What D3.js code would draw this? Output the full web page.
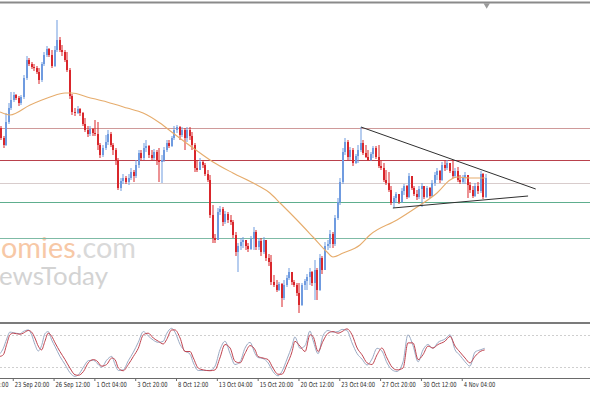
<!DOCTYPE html>
<html>
<head>
<meta charset="utf-8">
<script src="https://cdn.jsdelivr.net/npm/d3@7"></script>
<style>
  html, body { margin: 0; padding: 0; background: #fff; }
  svg { display: block; }
</style>
</head>
<body>
<svg id="chart" width="590" height="393"></svg>
<script>
// H4 candles, oldest first. open of each bar = close of the bar before it
const firstOpen = 872;
const close = [
  862,855,878,892,900,905,902,897,903,922,
  940,936,933,932,928,920,936,945,951,945,
  934,950,960,950,948,940,930,904,888,887,
  891,887,876,870,866,871,867,866,855,845,
  852,858,866,855,850,840,812,819,822,818,
  822,828,824,835,847,842,852,854,845,842,
  848,840,838,840,850,857,854,862,870,873,
  865,870,862,870,864,855,832,830,838,835,
  826,820,785,762,760,788,791,778,786,780,
  778,765,748,754,758,760,754,751,761,768,
  753,759,748,760,742,738,718,715,710,716,
  702,715,722,728,718,715,707,695,715,719,
  723,728,717,730,710,742,730,754,756,766,
  756,782,798,818,848,858,843,850,837,844,
  850,857,847,843,840,846,852,843,834,832,
  820,817,810,797,802,806,798,809,814,803,
  824,812,806,803,811,814,803,812,804,817,
  825,829,820,835,832,837,829,824,829,820,
  818,822,825,815,810,804,814,809,826,803,
  822
];
const high = [
  874,864,887,897,908,908,906,904,905,925,
  944,942,938,936,934,932,938,948,954,952,
  950,954,980,963,955,950,948,932,906,892,
  894,892,888,882,874,874,872,880,878,857,
  855,865,870,868,857,852,842,822,826,824,
  826,832,830,840,850,850,857,860,855,850,
  851,850,852,845,853,860,860,864,874,875,
  874,873,872,873,873,868,857,840,842,840,
  837,830,825,795,766,792,794,793,789,788,
  785,780,768,757,762,763,760,757,764,773,
  770,762,762,763,760,746,745,725,720,718,
  717,720,725,732,728,720,717,717,717,721,
  726,732,729,740,732,746,744,758,760,770,
  768,785,802,822,852,862,860,853,852,846,
  855,873,860,855,850,848,854,854,855,840,
  837,830,828,814,804,808,805,812,816,815,
  827,824,814,810,814,817,814,814,813,820,
  828,832,830,838,840,840,837,840,832,833,
  825,825,828,824,818,814,817,818,829,827,
  826
];
const low = [
  860,852,854,876,890,898,900,894,895,901,
  920,934,931,929,926,916,918,934,943,943,
  932,933,948,948,944,938,928,901,885,884,
  886,884,874,868,863,864,864,864,850,842,
  843,850,855,853,845,835,810,809,816,816,
  815,820,818,822,832,840,840,848,842,840,
  840,835,818,817,838,848,852,853,860,867,
  860,863,850,858,860,850,828,828,830,832,
  824,818,782,757,757,760,785,774,776,777,
  775,762,744,728,750,752,750,748,750,750,
  750,750,744,746,739,734,715,713,708,709,
  693,700,713,720,715,713,704,687,694,710,
  710,715,714,700,700,709,726,730,750,752,
  752,754,780,795,816,845,840,840,834,836,
  837,848,845,842,839,839,842,841,832,830,
  818,815,808,795,792,797,796,797,805,801,
  802,810,804,800,801,793,801,802,802,803,
  814,820,817,819,829,830,827,822,822,818,
  816,816,816,802,807,802,803,806,807,801,
  802
];

// moving average at these bars
const maBars   = [0, 3.9, 11.8, 19.6, 25.5, 28.2, 34.1, 41.9, 49.8, 56.1, 62.7, 67.8, 75.7, 83.5, 91.3, 100.7, 105.8, 109.8, 116.4, 122.7, 128.2, 130.5, 134.5, 141.1, 145, 155.6, 163.5, 171.3, 176.4, 179.1, 184.2, 190];
const maValues = [888, 885, 895, 903, 907, 907, 903, 898, 892, 887, 877, 867, 852, 838, 827, 815, 807, 797, 780, 763, 748, 743, 747, 755, 765, 780, 793, 807, 820, 823, 822, 822];

// horizontal support / resistance levels
const levels = [872, 840, 817, 798, 762];

// triangle trend lines: [bar, price] pairs
const upperTrend = [[141.5, 873], [210, 811]];
const lowerTrend = [[154, 792], [207, 804]];

// stochastic oscillator (%K main, %D signal)
const stochBars = [0,1.3,2.6,3.9,5.2,7.8,9.1,11.1,12.4,13.7,15,16.3,17.6,18.9,20.3,21.6,23.5,25.5,27.4,29.4,30.7,32.7,34.6,36.6,37.9,39.9,41.8,43.8,45.1,46.4,48.3,50.3,52.3,54.2,56.2,58.1,60.1,62.1,64,65.3,67.3,68.6,70.6,72.5,74.5,75.8,77.7,79.7,82.3,84.3,86.2,88.2,90.2,92.1,94.1,96,98,100,101.1,103.1,105.1,107,109,110.5,112.5,114.5,115.6,117.6,119.6,121.5,122.7,124.7,126.6,128.6,130.5,132.5,134.1,136,138,140,141.9,143.9,145.8,147.8,149.7,151.7,153.7,155.6,158,159.9,161.9,163.9,165.8,167.8,169.7,171.7,174.4,176.4,178.4,180.3,182.3,184.2,186.2,188.2,190];
const stochK = [45,55,72,85,84,82,86,89,80,62,50,60,82,86,70,58,40,25,10,3,6,20,32,33,28,20,33,40,25,14,15,32,48,66,86,78,70,66,68,82,92,85,62,50,44,28,14,14,14,22,52,68,45,25,30,55,66,45,38,36,28,12,4,12,35,60,76,55,60,87,70,45,78,88,85,86,90,88,65,45,35,24,35,55,50,28,15,12,30,80,60,30,52,62,55,66,72,80,52,42,30,22,48,52,55];
const stochD = [40,43,62,80,83,81,83,88,85,74,59,52,68,83,77,65,49,34,18.5,6,5,12,28,34,32,22,25,37,34,18.5,13.5,25,40,55,80,83,74,68,63,71,89,89,74,49,49,37,18.5,15,13.5,15,37,62,55.5,31,28,45,60,52,40,37,34,18.5,7,7,25,49,68,59,49,80,77,49,68,83,86,83,86,91,80,55.5,43,28,25,43,55.5,37,20,15,18.5,65,65,34,43,59,55.5,62,68,77,59,48,37,28,40,49,52];
const stochLevels = [80, 20];

// time axis
const tickBars   = [-11, 5, 21, 37, 53, 69, 85, 101, 117, 133, 149, 165, 181];
const tickLabels = ['19 Sep 04:00', '23 Sep 20:00', '26 Sep 12:00', '1 Oct 04:00', '3 Oct 20:00', '8 Oct 12:00', '13 Oct 04:00', '15 Oct 20:00', '20 Oct 12:00', '23 Oct 04:00', '27 Oct 20:00', '30 Oct 12:00', '4 Nov 04:00'];

// ---- styles ----
const bullColor = '#6f9be0';
const bearColor = '#d9262b';
const levelColors = ['#cf9a9a', '#b9414c', '#d8cccc', '#5eae8e', '#7fbba6'];

const width = 590;
const svg = d3.select('#chart');

const x = d3.scaleLinear().domain([0, close.length - 1]).range([0, 484.7]);
const y = d3.scaleLinear().domain([678, 996]).range([322, 4]);
const ys = d3.scaleLinear().domain([0, 100]).range([378, 324]);

svg.append('rect').attr('width', width).attr('height', 393).attr('fill', '#fff');

// watermark
const wm = svg.append('g').style('font-family', 'Lato, "Open Sans", sans-serif');
const t1 = wm.append('text').attr('y', 258).style('font-size', '30px');
t1.append('tspan').attr('fill', '#f7c8a6').text('economies');
t1.append('tspan').attr('fill', '#d9d9d9').text('.com');
let full = t1.node().getComputedTextLength();
let head = t1.node().getSubStringLength(0, 4);
t1.style('font-size', (30 * 135 / (full - head)) + 'px');
head = t1.node().getSubStringLength(0, 4);
t1.attr('x', -head + 1);

const t2 = wm.append('text').attr('y', 285).style('font-size', '30px').attr('fill', '#d3d3d3').text('NewsToday');
full = t2.node().getComputedTextLength();
head = t2.node().getSubStringLength(0, 1);
t2.style('font-size', (30 * 109 / (full - head)) + 'px');
head = t2.node().getSubStringLength(0, 1);
t2.attr('x', -head - 1);

// top frame + shift marker
svg.append('line').attr('x1', 0).attr('x2', width).attr('y1', 2.5).attr('y2', 2.5)
  .attr('stroke', '#8a8a8a').attr('stroke-width', 2);
svg.append('path')
  .attr('d', d3.symbol(d3.symbolTriangle, 18))
  .attr('transform', `translate(${x(close.length - 1) + 2},5) rotate(180)`)
  .attr('fill', '#9a9a9a');

// levels
svg.append('g').selectAll('line')
  .data(levels)
  .enter().append('line')
  .attr('x1', 0).attr('x2', width)
  .attr('y1', d => Math.round(y(d)) + 0.5)
  .attr('y2', d => Math.round(y(d)) + 0.5)
  .attr('stroke', (d, i) => levelColors[i])
  .attr('stroke-width', 1);

// candles
const bars = close.map((c, i) => {
  const o = i ? close[i - 1] : firstOpen;
  return { i, o, c, h: Math.max(high[i], o, c), l: Math.min(low[i], o, c) };
});

const candles = svg.append('g').selectAll('g')
  .data(bars)
  .enter().append('g')
  .attr('fill', d => d.c >= d.o ? bullColor : bearColor);

candles.append('rect')
  .attr('x', d => Math.round(x(d.i)) + 0.5)
  .attr('width', 1)
  .attr('y', d => y(d.h))
  .attr('height', d => y(d.l) - y(d.h));

candles.append('rect')
  .attr('x', d => Math.round(x(d.i)))
  .attr('width', 2)
  .attr('y', d => y(Math.max(d.o, d.c)))
  .attr('height', d => Math.max(1, Math.abs(y(d.o) - y(d.c))));

// moving average
const maLine = d3.line()
  .x((d, i) => x(maBars[i]))
  .y(d => y(d))
  .curve(d3.curveMonotoneX);

svg.append('path')
  .attr('d', maLine(maValues))
  .attr('fill', 'none')
  .attr('stroke', '#e6ac6c')
  .attr('stroke-width', 1.1);

// triangle
const trend = d3.line().x(d => x(d[0])).y(d => y(d[1]));
[upperTrend, lowerTrend].forEach(t => {
  svg.append('path')
    .attr('d', trend(t))
    .attr('fill', 'none')
    .attr('stroke', '#2f2f2f')
    .attr('stroke-width', 1);
});

// stochastic panel
svg.append('rect').attr('x', 0).attr('y', 322).attr('width', width).attr('height', 2).attr('fill', '#7b7b7b');

svg.append('g').selectAll('line')
  .data(stochLevels)
  .enter().append('line')
  .attr('x1', 0).attr('x2', width)
  .attr('y1', d => Math.round(ys(d)) + 0.5)
  .attr('y2', d => Math.round(ys(d)) + 0.5)
  .attr('stroke', '#cfcfcf')
  .attr('stroke-dasharray', '2,2');

const stochLine = d3.line()
  .x((d, i) => x(stochBars[i]))
  .y(d => ys(d))
  .curve(d3.curveMonotoneX);

svg.append('path')
  .attr('d', stochLine(stochK))
  .attr('fill', 'none')
  .attr('stroke', '#9aaac4')
  .attr('stroke-width', 1);

svg.append('path')
  .attr('d', stochLine(stochD))
  .attr('fill', 'none')
  .attr('stroke', '#c0434f')
  .attr('stroke-width', 1);

// time axis
svg.append('line').attr('x1', 0).attr('x2', width).attr('y1', 378.5).attr('y2', 378.5)
  .attr('stroke', '#6a6a6a');

const axis = svg.append('g')
  .attr('transform', 'translate(0,378)')
  .call(d3.axisBottom(x)
    .tickValues(tickBars)
    .tickFormat((d, i) => tickLabels[i])
    .tickSize(3)
    .tickSizeOuter(0));

axis.select('.domain').remove();
axis.selectAll('.tick line').attr('stroke', '#6a6a6a');
// the labels are narrow in the original, so squeeze them horizontally
axis.selectAll('.tick text')
  .attr('text-anchor', 'start')
  .attr('x', 0)
  .attr('y', 0)
  .attr('dy', 0)
  .attr('transform', 'translate(1.5,9) scale(0.74,1)')
  .attr('fill', '#2a2a2a')
  .style('font-family', '"DejaVu Sans", sans-serif')
  .style('font-size', '7px');
</script>
</body>
</html>
